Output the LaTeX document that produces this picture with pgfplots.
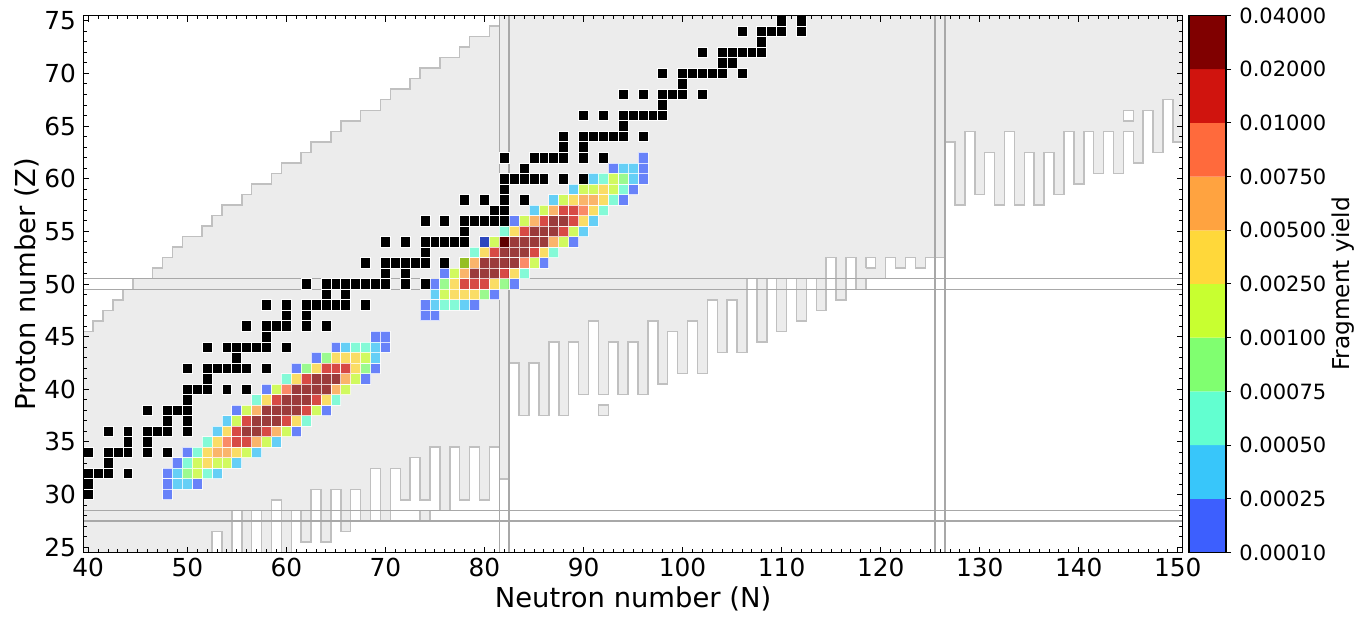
\documentclass[border=0pt]{standalone}
\usepackage{fontspec}
\setmainfont{DejaVu Sans}
\usepackage{pgfplots}
\pgfplotsset{compat=1.18}
\usepgfplotslibrary{fillbetween}
\usepackage{pgfplotstable}

\definecolor{cA}{RGB}{61,95,254}
\definecolor{cB}{RGB}{56,198,250}
\definecolor{cC}{RGB}{98,255,208}
\definecolor{cD}{RGB}{128,255,112}
\definecolor{cE}{RGB}{200,255,48}
\definecolor{cF}{RGB}{255,216,58}
\definecolor{cG}{RGB}{255,163,64}
\definecolor{cH}{RGB}{255,106,60}
\definecolor{cI}{RGB}{208,20,14}
\definecolor{cJ}{RGB}{128,0,0}
\definecolor{chart}{RGB}{236,236,236}
\definecolor{chartedge}{RGB}{192,192,192}
\definecolor{magic}{RGB}{168,168,168}

% cell edges: x = left edge of column N, t = upper edge, b = lower edge
\pgfplotstableread{
x t b
39.5 45.5 19.5
40.5 46.5 19.5
41.5 47.5 19.5
42.5 48.5 19.5
43.5 49.5 19.5
44.5 50.5 19.5
45.5 50.5 19.5
46.5 51.5 19.5
47.5 52.5 19.5
48.5 53.5 19.5
49.5 54.5 19.5
50.5 54.5 19.5
51.5 55.5 19.5
52.5 56.5 26.5
53.5 57.5 19.5
54.5 57.5 28.5
55.5 58.5 19.5
56.5 59.5 28.5
57.5 59.5 19.5
58.5 60.5 29.5
59.5 61.5 19.5
60.5 61.5 28.5
61.5 62.5 25.5
62.5 63.5 30.5
63.5 63.5 25.5
64.5 64.5 30.5
65.5 65.5 26.5
66.5 65.5 30.5
67.5 66.5 27.5
68.5 66.5 32.5
69.5 67.5 27.5
70.5 68.5 32.5
71.5 68.5 29.5
72.5 69.5 33.5
73.5 70.5 29.5
74.5 70.5 34.5
75.5 71.5 28.5
76.5 71.5 34.5
77.5 72.5 29.5
78.5 73.5 34.5
79.5 73.5 29.5
80.5 74.5 34.5
81.5 80 31.5
82.5 80 42.5
83.5 80 37.5
84.5 80 42.5
85.5 80 37.5
86.5 80 44.5
87.5 80 37.5
88.5 80 44.5
89.5 80 39.5
90.5 80 46.5
91.5 80 39.5
92.5 80 44.5
93.5 80 39.5
94.5 80 44.5
95.5 80 39.5
96.5 80 46.5
97.5 80 40.5
98.5 80 45.5
99.5 80 41.5
100.5 80 46.5
101.5 80 41.5
102.5 80 48.5
103.5 80 43.5
104.5 80 48.5
105.5 80 43.5
106.5 80 50.5
107.5 80 44.5
108.5 80 50.5
109.5 80 45.5
110.5 80 50.5
111.5 80 46.5
112.5 80 50.5
113.5 80 47.5
114.5 80 52.5
115.5 80 48.5
116.5 80 52.5
117.5 80 49.5
118.5 80 50.5
119.5 80 50.5
120.5 80 52.5
121.5 80 51.5
122.5 80 52.5
123.5 80 51.5
124.5 80 52.5
125.5 80 52.5
126.5 80 63.5
127.5 80 57.5
128.5 80 64.5
129.5 80 58.5
130.5 80 62.5
131.5 80 57.5
132.5 80 64.5
133.5 80 57.5
134.5 80 62.5
135.5 80 57.5
136.5 80 62.5
137.5 80 58.5
138.5 80 64.5
139.5 80 59.5
140.5 80 64.5
141.5 80 60.5
142.5 80 64.5
143.5 80 60.5
144.5 80 64.5
145.5 80 61.5
146.5 80 66.5
147.5 80 62.5
148.5 80 67.5
149.5 80 63.5
150.5 80 63.5
}\bnd

\pgfplotsset{
  cell/.style={only marks, mark=square*, mark size=2.4764pt,
    mark options={yscale=1.063, draw=white, line width=0.4pt, fill=#1, opacity=0.75}},
  blackcell/.style={only marks, mark=square*, mark size=2.4764pt,
    mark options={yscale=1.063, draw=white, line width=0.4pt, fill=black}},
}

\begin{document}
\begin{tikzpicture}
\begin{axis}[
  at={(0pt,0pt)}, anchor=south west,
  scale only axis, width=549.75pt, height=268.5pt,
  xmin=39.5, xmax=150.5, ymin=24.5, ymax=75.5,
  enlargelimits=false, axis on top,
  xtick={40,50,...,150}, ytick={25,30,...,75},
  minor x tick num=9, minor y tick num=4,
  tick align=inside, tick pos=both,
  major tick length=3pt, minor tick length=1.75pt,
  tick style={black, line width=0.5pt},
  axis line style={black, line width=0.6pt},
  /pgf/number format/assume math mode=true,
  tick label style={font=\fontsize{12.4}{14}\selectfont},
  xticklabel style={inner sep=0pt, yshift=-2.5pt},
  yticklabel style={inner sep=0pt, xshift=-3.5pt},
  xlabel={Neutron number (N)}, ylabel={Proton number (Z)},
  label style={font=\fontsize{13.7}{16}\selectfont, inner sep=0pt},
  xlabel style={at={(axis description cs:0.5,-0.062)}, anchor=north},
  ylabel style={at={(axis description cs:-0.0394,0.5)}, anchor=south},
]
\addplot[draw=none, name path=up, const plot mark left] table[x=x,y=t]{\bnd};
\addplot[draw=none, name path=lo, const plot mark left] table[x=x,y=b]{\bnd};
\addplot[chart] fill between[of=up and lo];
\addplot[chartedge, line width=0.75pt, const plot mark left] table[x=x,y=t]{\bnd};
\addplot[chartedge, line width=0.75pt, const plot mark left] table[x=x,y=b]{\bnd};
% isolated cells and holes
\addplot[fill=chart, draw=chartedge, line width=0.75pt] coordinates {(73.5,27.5) (74.5,27.5) (74.5,28.5) (73.5,28.5) (73.5,27.5)};
\addplot[fill=chart, draw=chartedge, line width=0.75pt] coordinates {(91.5,37.5) (92.5,37.5) (92.5,38.5) (91.5,38.5) (91.5,37.5)};
\addplot[fill=white, draw=chartedge, line width=0.75pt] coordinates {(118.5,51.5) (119.5,51.5) (119.5,52.5) (118.5,52.5) (118.5,51.5)};
\addplot[fill=white, draw=chartedge, line width=0.75pt] coordinates {(144.5,65.5) (145.5,65.5) (145.5,66.5) (144.5,66.5) (144.5,65.5)};
% magic numbers
\addplot[magic, line width=0.75pt] coordinates {(81.5,20) (81.5,80)};
\addplot[magic, line width=0.75pt] coordinates {(82.5,20) (82.5,80)};
\addplot[magic, line width=0.75pt] coordinates {(125.5,20) (125.5,80)};
\addplot[magic, line width=0.75pt] coordinates {(126.5,20) (126.5,80)};
\addplot[magic, line width=0.75pt] coordinates {(35,27.5) (155,27.5)};
\addplot[magic, line width=0.75pt] coordinates {(35,28.5) (155,28.5)};
\addplot[magic, line width=0.75pt] coordinates {(35,49.5) (155,49.5)};
\addplot[magic, line width=0.75pt] coordinates {(35,50.5) (155,50.5)};
% stable nuclei
\addplot[blackcell] coordinates {
(40,30) (40,31) (40,32) (41,32) (42,32) (44,32) (42,33) (40,34) (42,34) (43,34) (44,34) (46,34) (48,34)
(44,35) (46,35) (42,36) (44,36) (46,36) (47,36) (48,36) (50,36) (48,37) (50,37) (46,38) (48,38) (49,38) (50,38)
(50,39) (50,40) (51,40) (52,40) (54,40) (56,40) (52,41) (50,42) (52,42) (53,42) (54,42) (55,42) (56,42) (58,42)
(55,43) (52,44) (54,44) (55,44) (56,44) (57,44) (58,44) (60,44) (58,45) (56,46) (58,46) (59,46) (60,46) (62,46) (64,46)
(60,47) (62,47) (58,48) (60,48) (62,48) (63,48) (64,48) (65,48) (66,48) (68,48) (64,49) (66,49)
(62,50) (64,50) (65,50) (66,50) (67,50) (68,50) (69,50) (70,50) (72,50) (74,50) (70,51) (72,51)
(68,52) (70,52) (71,52) (72,52) (73,52) (74,52) (76,52) (78,52) (74,53)
(70,54) (72,54) (74,54) (75,54) (76,54) (77,54) (78,54) (80,54) (82,54) (78,55)
(74,56) (76,56) (78,56) (79,56) (80,56) (81,56) (82,56) (81,57) (82,57) (78,58) (80,58) (82,58) (84,58) (82,59)
(82,60) (83,60) (84,60) (85,60) (86,60) (88,60) (90,60) (84,61)
(82,62) (85,62) (86,62) (87,62) (88,62) (90,62) (92,62) (88,63) (90,63)
(88,64) (90,64) (91,64) (92,64) (93,64) (94,64) (96,64) (94,65)
(90,66) (92,66) (94,66) (95,66) (96,66) (97,66) (98,66) (98,67)
(94,68) (96,68) (98,68) (99,68) (100,68) (102,68) (100,69)
(98,70) (100,70) (101,70) (102,70) (103,70) (104,70) (106,70) (104,71) (105,71)
(102,72) (104,72) (105,72) (106,72) (107,72) (108,72) (108,73)
(106,74) (108,74) (109,74) (110,74) (112,74) (110,75) (112,75)};
% fragment yields by bin
\addplot[cell=cA] coordinates {(69,45) (70,45) (65,44) (70,44) (63,43) (61,42) (69,42) (68,41) (58,40) (55,38) (64,38) (61,36) (50,34) (49,33) (48,32) (48,31) (51,31) (48,30) (96,62) (93,61) (96,61) (96,60) (95,59) (94,58) (83,56) (80,54) (89,54) (86,52) (76,51) (75,50) (83,50) (81,49) (74,48) (79,48) (74,47) (75,47)};
\addplot[cell=cB] coordinates {(66,44) (69,44) (69,43) (54,37) (53,36) (59,35) (57,34) (55,33) (49,32) (53,32) (49,31) (50,31) (94,61) (95,61) (91,60) (95,60) (89,59) (87,58) (85,57) (91,56) (90,55) (75,49) (75,48) (78,48)};
\addplot[cell=cC] coordinates {(67,44) (68,44) (60,41) (57,39) (65,39) (62,37) (52,35) (51,34) (50,33) (52,32) (92,60) (94,59) (93,58) (92,57) (82,55) (79,53) (87,53) (84,51) (76,48) (77,48)};
\addplot[cell=cD] coordinates {(64,43) (62,42) (68,42) (50,32) (94,60) (76,50) (82,50) (80,49)};
\addplot[cell=cE] coordinates {(68,43) (67,41) (59,40) (66,40) (56,38) (63,38) (55,37) (60,36) (58,35) (56,34) (51,33) (53,33) (54,33) (51,32) (93,60) (90,59) (91,59) (93,59) (88,58) (86,57) (84,56) (89,55) (81,54) (88,54) (78,52) (85,52) (77,51) (76,49)};
\addplot[cell=cF] coordinates {(65,43) (66,43) (67,43) (63,42) (67,42) (61,41) (58,39) (64,39) (61,37) (54,36) (53,35) (52,34) (55,34) (52,33) (92,59) (89,58) (92,58) (91,57) (90,56) (83,55) (80,53) (86,53) (83,51) (77,50) (81,50) (77,49) (78,49) (79,49)};
\addplot[cell=cG] coordinates {(66,41) (65,40) (57,38) (59,36) (57,35) (53,34) (54,34) (90,58) (91,58) (87,57) (85,56) (87,54) (79,52) (78,51)};
\addplot[cell=cH] coordinates {(60,40) (54,35) (90,57) (84,52)};
\addplot[cell=cI] coordinates {(64,42) (65,42) (66,42) (62,41) (59,39) (63,39) (62,38) (56,37) (60,37) (55,36) (58,36) (55,35) (56,35) (88,57) (89,57) (86,56) (89,56) (84,55) (88,55) (81,53) (85,53) (82,51) (78,50) (79,50) (80,50)};
\addplot[cell=cJ] coordinates {(63,41) (64,41) (65,41) (61,40) (62,40) (63,40) (64,40) (60,39) (61,39) (62,39) (58,38) (59,38) (60,38) (61,38) (57,37) (58,37) (59,37) (56,36) (57,36) (87,56) (88,56) (85,55) (86,55) (87,55) (82,54) (83,54) (84,54) (85,54) (86,54) (82,53) (83,53) (84,53) (80,52) (81,52) (82,52) (83,52) (79,51) (80,51) (81,51)};
\end{axis}

\begin{axis}[
  at={(552.85pt,0pt)}, anchor=south west,
  scale only axis, width=18.5pt, height=268.5pt,
  xmin=0, xmax=1, ymin=0, ymax=10, enlargelimits=false, axis on top,
  xtick=\empty, ytick={0,1,2,3,4,5,6,7,8,9,10},
  yticklabels={0.00010,0.00025,0.00050,0.00075,0.00100,0.00250,0.00500,0.00750,0.01000,0.02000,0.04000},
  ytick pos=right, yticklabel pos=right,
  tick align=outside, major tick length=2.5pt,
  tick style={black, line width=0.5pt},
  axis line style={black, line width=0.6pt},
  yticklabel style={font=\fontsize{10.5}{12}\selectfont, inner sep=0pt, xshift=4pt},
  ylabel={Fragment yield},
  ylabel style={font=\fontsize{11.6}{13}\selectfont, inner sep=0pt, at={(axis description cs:3.86,0.5)}, anchor=north},
]
\addplot[fill=cA, draw=none] coordinates {(0,0) (1,0) (1,1) (0,1) (0,0)};
\addplot[fill=cB, draw=none] coordinates {(0,1) (1,1) (1,2) (0,2) (0,1)};
\addplot[fill=cC, draw=none] coordinates {(0,2) (1,2) (1,3) (0,3) (0,2)};
\addplot[fill=cD, draw=none] coordinates {(0,3) (1,3) (1,4) (0,4) (0,3)};
\addplot[fill=cE, draw=none] coordinates {(0,4) (1,4) (1,5) (0,5) (0,4)};
\addplot[fill=cF, draw=none] coordinates {(0,5) (1,5) (1,6) (0,6) (0,5)};
\addplot[fill=cG, draw=none] coordinates {(0,6) (1,6) (1,7) (0,7) (0,6)};
\addplot[fill=cH, draw=none] coordinates {(0,7) (1,7) (1,8) (0,8) (0,7)};
\addplot[fill=cI, draw=none] coordinates {(0,8) (1,8) (1,9) (0,9) (0,8)};
\addplot[fill=cJ, draw=none] coordinates {(0,9) (1,9) (1,10) (0,10) (0,9)};
\end{axis}
\pgfresetboundingbox
\path[use as bounding box] (-41.65pt,-31.75pt) rectangle (637.85pt,276.25pt);
\end{tikzpicture}
\end{document}
